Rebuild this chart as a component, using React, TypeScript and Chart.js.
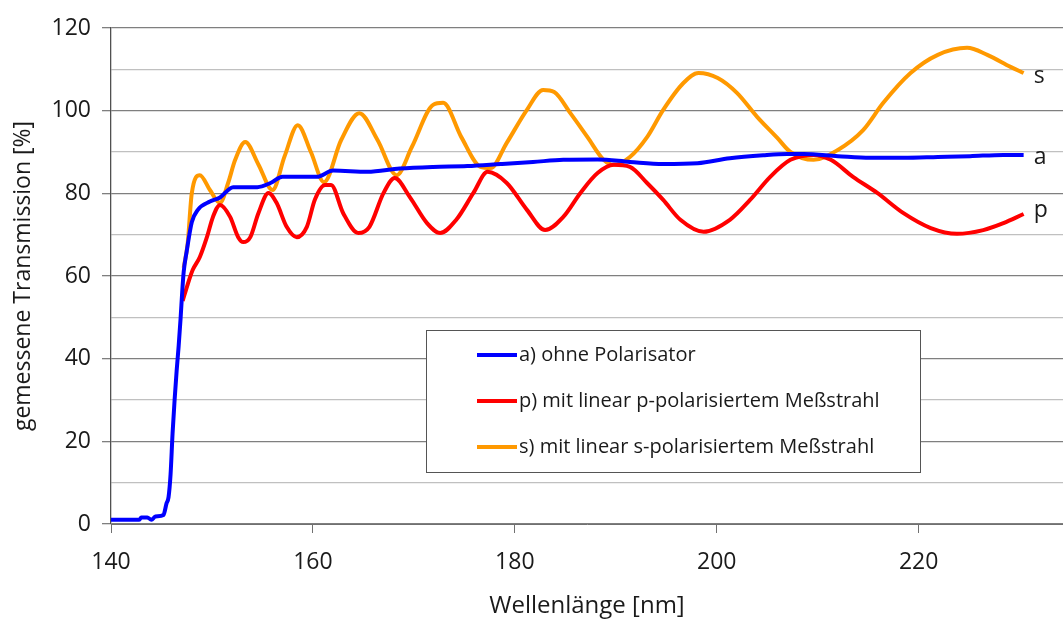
import React, { useEffect, useRef } from "react";
import { Chart, registerables } from "chart.js";

Chart.register(...registerables);

// ---- data ----
const aX = [140, 142.8, 143.0, 143.6, 144.0, 144.4, 145.2, 145.5, 145.7, 145.9, 146.1, 146.3, 146.5, 146.7, 146.9, 147.05, 147.2, 147.5, 148.0, 148.6, 149.8, 150.8, 152.1, 154.5, 155.8, 157.0, 160.4, 162.0, 165.4, 168.6, 171.9, 175.3, 178.6, 181.8, 184.8, 188.2, 191.4, 194.7, 198.1, 201.3, 204.6, 207.0, 208.6, 212.0, 215.2, 218.5, 221.9, 225.1, 228.4, 230.4];
const aY = [1, 1, 1.6, 1.6, 1, 1.8, 2.2, 5, 6.5, 12, 22, 30, 37, 43, 50, 56, 61, 66, 73, 76, 78, 79, 81.5, 81.5, 82.5, 84, 84, 85.5, 85.2, 86, 86.4, 86.6, 87.1, 87.6, 88.1, 88.2, 87.6, 87.1, 87.3, 88.5, 89.2, 89.5, 89.5, 89, 88.6, 88.6, 88.8, 89, 89.3, 89.3];

const pX = [147.1, 147.6, 148.1, 148.8, 149.5, 150.1, 150.8, 151.8, 152.6, 153.1, 153.8, 154.6, 155.6, 156.4, 157.4, 158.4, 159.4, 160.2, 161.2, 161.8, 163.0, 164.5, 165.6, 167.0, 168.1, 169.6, 171.3, 172.6, 174.2, 175.9, 177.3, 179.2, 181.2, 183.0, 184.8, 186.5, 188.2, 189.8, 191.4, 193.1, 194.7, 196.4, 198.7, 201.3, 203.3, 205.3, 207.3, 209.6, 211.3, 213.5, 215.9, 218.5, 221.2, 223.8, 226.4, 228.4, 230.4];
const pY = [54, 58, 61.5, 64.6, 69.4, 74.3, 77.2, 74.3, 69.4, 68.2, 69.4, 75.2, 80.1, 77.7, 71.9, 69.4, 71.9, 78.5, 82, 82, 75.2, 70.4, 71.9, 80.1, 83.7, 79.1, 72.8, 70.4, 73.6, 80.1, 85.2, 82.5, 76, 71.1, 74.3, 80.1, 84.9, 86.9, 86.4, 82.5, 78.4, 73.6, 70.7, 73.6, 78.4, 84, 88.1, 89.3, 88.1, 84, 80.1, 75.2, 71.6, 70.2, 71.1, 72.8, 75];

const sX = [147.2, 147.6, 148.0, 148.8, 149.8, 150.8, 151.6, 152.3, 153.3, 154.6, 156.0, 157.2, 158.5, 159.8, 161.1, 162.8, 164.6, 166.4, 168.3, 169.8, 171.9, 172.9, 174.7, 176.6, 177.6, 179.2, 181.2, 182.8, 183.9, 185.5, 187.2, 188.8, 189.8, 191.4, 193.1, 194.7, 196.7, 198.2, 200.1, 202.0, 204.0, 206.0, 207.3, 209.6, 212.0, 214.5, 216.5, 219.2, 221.9, 224.8, 226.8, 229.1, 230.4];
const sY = [62, 68, 80, 84.4, 80.8, 77.7, 82.5, 88.1, 92.4, 87, 80.8, 89, 96.5, 90, 82.7, 92.9, 99.4, 92.9, 84.4, 91.2, 101.4, 101.9, 93.6, 86.4, 86.1, 92.2, 100.2, 105, 104.5, 99.4, 93.6, 88.1, 86.9, 88.8, 93.6, 100.2, 106.7, 109.1, 107.9, 104.3, 98.5, 93.4, 90, 88.1, 90.5, 95.3, 101.9, 109.1, 113.5, 115.2, 113.5, 110.6, 109.1];

const seriesLabels = [
  "a) ohne Polarisator",
  "p) mit linear p-polarisiertem Meßstrahl",
  "s) mit linear s-polarisiertem Meßstrahl",
];
const endLabels = ["a", "p", "s"];
const seriesColors = ["#0000ff", "#ff0000", "#ff9900"];
const xTitle = "Wellenlänge [nm]";
const yTitle = "gemessene Transmission [%]";

const FONT = "'Open Sans', 'Noto Sans', sans-serif";
const TEXT = "#1a1a1a";

const toPoints = (xs: number[], ys: number[]) => xs.map((x, i) => ({ x, y: ys[i] }));

const overlayPlugin = {
  id: "overlay",
  afterDatasetsDraw(chart: any) {
    const ctx = chart.ctx;
    const xs = chart.scales.x;
    const ys = chart.scales.y;
    ctx.save();
    // end labels
    ctx.font = `23px ${FONT}`;
    ctx.fillStyle = TEXT;
    ctx.textAlign = "left";
    ctx.textBaseline = "middle";
    const endOffsets = [3, -4, 3];
    chart.data.datasets.forEach((ds: any, i: number) => {
      const last = ds.data[ds.data.length - 1];
      const px = xs.getPixelForValue(last.x);
      const py = ys.getPixelForValue(last.y);
      ctx.fillText(endLabels[i], px + 10, py + endOffsets[i]);
    });
    // legend box
    const area = chart.chartArea;
    const bx = area.left + 315;
    const by = area.top + 302;
    const bw = 494;
    const bh = 142;
    ctx.fillStyle = "#ffffff";
    ctx.fillRect(bx, by, bw, bh);
    ctx.strokeStyle = "#555555";
    ctx.lineWidth = 1;
    ctx.strokeRect(bx + 0.5, by + 0.5, bw, bh);
    ctx.font = `20px ${FONT}`;
    seriesLabels.forEach((lab, i) => {
      const cy = by + 25 + i * 46;
      ctx.strokeStyle = seriesColors[i];
      ctx.lineWidth = 4;
      ctx.beginPath();
      ctx.moveTo(bx + 51, cy);
      ctx.lineTo(bx + 91, cy);
      ctx.stroke();
      ctx.fillStyle = TEXT;
      ctx.textBaseline = "middle";
      ctx.fillText(lab, bx + 93, cy);
    });
    ctx.restore();
  },
};

export default function App() {
  const ref = useRef<HTMLCanvasElement>(null);
  useEffect(() => {
    if (!ref.current) return;
    const data = [
      toPoints(aX, aY),
      toPoints(pX, pY),
      toPoints(sX, sY),
    ];
    const chart = new Chart(ref.current, {
      type: "line",
      data: {
        datasets: data.map((d, i) => ({
          label: seriesLabels[i],
          data: d,
          borderColor: seriesColors[i],
          backgroundColor: seriesColors[i],
          borderWidth: 4,
          pointRadius: 0,
          cubicInterpolationMode: "monotone" as const,
          fill: false,
        })),
      },
      options: {
        responsive: false,
        animation: false,
        devicePixelRatio: 1,
        layout: { padding: { top: 28, right: 0, left: 0, bottom: 0 } },
        plugins: {
          legend: { display: false },
          tooltip: { enabled: false },
        },
        scales: {
          x: {
            type: "linear",
            min: 140,
            max: 234.3,
            afterBuildTicks: (scale: any) => {
              scale.ticks = scale.ticks.filter((t: any) => Math.abs(t.value % 20) < 1e-6);
            },
            afterFit: (scale: any) => {
              scale.height = 97;
            },
            ticks: {
              stepSize: 20,
              autoSkip: false,
              maxRotation: 0,
              padding: 16,
              color: TEXT,
              font: { family: FONT, size: 23 },
            },
            grid: {
              drawOnChartArea: false,
              drawTicks: true,
              tickLength: 9,
              color: "#707070",
            },
            border: { display: true, color: "#707070", width: 1 },
            title: {
              display: true,
              text: xTitle,
              color: TEXT,
              font: { family: FONT, size: 24 },
              padding: { top: 0, bottom: 0 },
            },
          },
          y: {
            type: "linear",
            min: 0,
            max: 120,
            afterFit: (scale: any) => {
              scale.width = 111;
            },
            ticks: {
              stepSize: 10,
              padding: 11,
              color: TEXT,
              font: { family: FONT, size: 23 },
              callback: (v: any) => (Number(v) % 20 === 0 ? String(v) : ""),
            },
            grid: {
              drawTicks: true,
              tickLength: 9,
              lineWidth: 1.3,
              color: (c: any) => (c.tick && c.tick.value % 20 === 0 ? "#7f7f7f" : "#c0c0c0"),
              tickColor: (c: any) => (c.tick && c.tick.value % 20 === 0 ? "#7f7f7f" : "rgba(0,0,0,0)"),
            },
            border: { display: true, color: "#505050", width: 1.3 },
            title: {
              display: true,
              text: yTitle,
              color: TEXT,
              font: { family: FONT, size: 23 },
              padding: { top: 10, bottom: 0 },
            },
          },
        },
      },
      plugins: [overlayPlugin],
    });
    return () => chart.destroy();
  }, []);
  return (
    <div style={{ position: "absolute", left: 0, top: 0, width: 1063, height: 621, background: "#fff" }}>
      <canvas ref={ref} width={1063} height={621} style={{ width: 1063, height: 621, display: "block" }} />
    </div>
  );
}
